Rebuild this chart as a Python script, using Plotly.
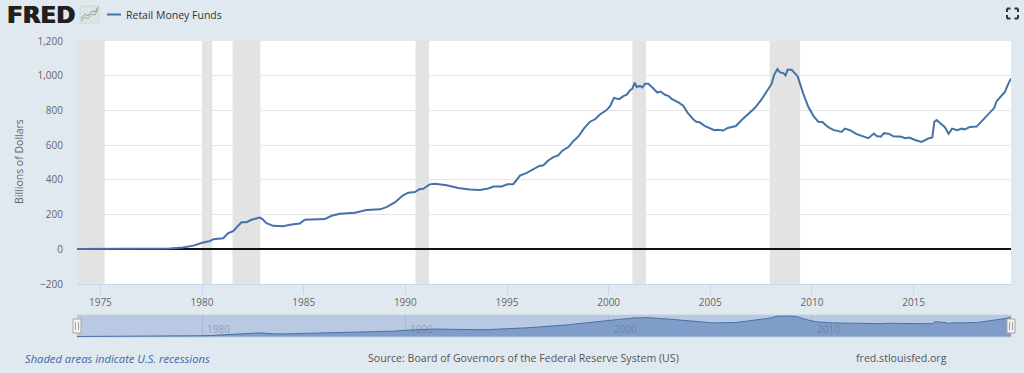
import plotly.graph_objects as go

W, H = 1024, 373

# --- data (decimal years, billions of dollars) ---
years = [
    1973.85, 1975.1, 1976.8, 1978.4, 1979.07, 1979.57, 1980.05, 1980.4, 1980.55, 1981.04,
    1981.29, 1981.53, 1981.94, 1982.19, 1982.43, 1982.84, 1982.97, 1983.17, 1983.5, 1984.0,
    1984.32, 1984.81, 1985.06, 1985.3, 1986.04, 1986.37, 1986.78, 1987.52, 1988.09, 1988.75,
    1989.07, 1989.48, 1989.89, 1990.14, 1990.47, 1990.71, 1990.88, 1991.2, 1991.45, 1992.03,
    1992.6, 1993.17, 1993.67, 1994.08, 1994.33, 1994.74, 1995.02, 1995.31, 1995.64, 1995.97,
    1996.3, 1996.59, 1996.79, 1997.03, 1997.28, 1997.52, 1997.72, 1998.02, 1998.26, 1998.51,
    1998.79, 1999.08, 1999.33, 1999.57, 1999.9, 2000.07, 2000.26, 2000.52, 2000.72, 2000.89,
    2001.05, 2001.16, 2001.28, 2001.38, 2001.54, 2001.66, 2001.79, 2001.95, 2002.2, 2002.39,
    2002.56, 2002.77, 2002.93, 2003.1, 2003.43, 2003.67, 2003.87, 2004.16, 2004.33, 2004.46,
    2004.74, 2005.07, 2005.2, 2005.34, 2005.64, 2005.85, 2006.26, 2006.54, 2006.87, 2007.2,
    2007.52, 2007.77, 2008.02, 2008.13, 2008.3, 2008.43, 2008.59, 2008.7, 2008.8, 2009.0,
    2009.16, 2009.3, 2009.57, 2009.82, 2010.07, 2010.31, 2010.51, 2010.8, 2011.05, 2011.46,
    2011.62, 2011.87, 2012.2, 2012.52, 2012.77, 2013.05, 2013.18, 2013.39, 2013.54, 2013.8,
    2014.0, 2014.41, 2014.57, 2014.79, 2015.07, 2015.39, 2015.72, 2015.92, 2016.02, 2016.13,
    2016.54, 2016.72, 2016.89, 2017.15, 2017.36, 2017.52, 2017.77, 2018.1, 2018.43, 2018.75,
    2018.97, 2019.08, 2019.33, 2019.49, 2019.66, 2019.79,
]
funds = [
    2, 3.5, 3.5, 4.5, 10, 21, 39, 48, 58, 64,
    93, 104, 156, 156, 170, 183, 174, 150, 135, 133,
    141, 149, 170, 172, 174, 193, 205, 210, 226, 230,
    243, 270, 311, 326, 330, 347, 349, 374, 378, 369,
    353, 344, 342, 350, 362, 362, 375, 375, 425, 440,
    463, 480, 484, 512, 531, 541, 568, 589, 623, 650,
    697, 735, 749, 777, 802, 825, 872, 865, 882, 891,
    916, 924, 960, 935, 941, 933, 954, 954, 926, 903,
    909, 890, 884, 867, 846, 827, 789, 749, 733, 733,
    710, 695, 686, 689, 684, 699, 710, 745, 783, 815,
    863, 907, 954, 1002, 1038, 1019, 1015, 1002, 1034, 1034,
    1011, 996, 897, 821, 769, 735, 733, 703, 688, 676,
    695, 686, 663, 651, 640, 667, 653, 649, 669, 665,
    651, 648, 640, 644, 630, 619, 638, 644, 735, 745,
    703, 665, 695, 686, 695, 691, 705, 707, 750, 787,
    815, 853, 888, 907, 954, 985,
]
recession_start = [1973.83, 1980.0, 1981.5, 1990.5, 2001.17, 2007.92]
recession_end = [1975.21, 1980.5, 1982.87, 1991.17, 2001.83, 2009.42]
nav_labels = [1980, 1990, 2000, 2010]
series_name = "Retail Money Funds"

BG = "#e1e9f0"
LINE = "#4572a7"


def px(v):
    return v / W


def py(v):
    return 1 - v / H


fig = go.Figure()
fig.add_trace(go.Scatter(x=years, y=funds, name=series_name, mode="lines",
                         line=dict(color=LINE, width=2), xaxis="x", yaxis="y"))
fig.add_trace(go.Scatter(x=years, y=funds, name=series_name, mode="lines", fill="tozeroy",
                         fillcolor="#7f9dc8", line=dict(color=LINE, width=1),
                         xaxis="x2", yaxis="y2", hoverinfo="skip"))

shapes = []
for a, b in zip(recession_start, recession_end):
    shapes.append(dict(type="rect", xref="x", yref="y domain", x0=a, x1=b, y0=0, y1=1,
                       fillcolor="#e3e3e3", line_width=0, layer="below"))
# navigator background and frame
shapes.append(dict(type="rect", xref="x2 domain", yref="y2 domain", x0=0, x1=1, y0=0, y1=1,
                   fillcolor="#b9c9e3", line=dict(color="#c8ced6", width=1), layer="below"))


def paper_rect(x0, y0, x1, y1, fill, color=None, width=0):
    return dict(type="rect", xref="paper", yref="paper", x0=px(x0), x1=px(x1), y0=py(y1), y1=py(y0),
                fillcolor=fill, line=dict(color=color or fill, width=width))


def paper_line(x0, y0, x1, y1, color, width):
    return dict(type="line", xref="paper", yref="paper", x0=px(x0), x1=px(x1), y0=py(y0), y1=py(y1),
                line=dict(color=color, width=width))


# navigator handles
for cx in (77, 1011):
    shapes.append(paper_rect(cx - 4, 319, cx + 4, 333, "#f2f2f2", "#a8a8a8", 1))
    shapes.append(paper_line(cx - 1.5, 322, cx - 1.5, 330, "#a0a0a0", 1))
    shapes.append(paper_line(cx + 1.5, 322, cx + 1.5, 330, "#a0a0a0", 1))

# legend swatch
shapes.append(paper_line(107, 14.5, 121, 14.5, LINE, 2))

# logo icon
shapes.append(paper_rect(80, 6, 99, 23, "#dfe3e3", "#d3d6d6", 1))
for pts, col in (([(81, 21), (85, 17), (88, 19), (92, 14), (95, 15), (98, 9)], "#8fb184"),
                 ([(81, 19), (85, 14), (88, 16), (92, 11), (95, 12), (98, 7)], "#7f9cc0")):
    for (xa, ya), (xb, yb) in zip(pts[:-1], pts[1:]):
        shapes.append(paper_line(xa, ya, xb, yb, col, 1))

# full-screen icon corners
for xc, yc, dx, dy in ((1007, 8.5, 1, 1), (1018, 8.5, -1, 1), (1007, 18.5, 1, -1), (1018, 18.5, -1, -1)):
    shapes.append(paper_line(xc, yc, xc + 3.5 * dx, yc, "#333333", 2))
    shapes.append(paper_line(xc, yc, xc, yc + 3.5 * dy, "#333333", 2))


def text(x, y, s, size=10, color="#555555", anchor="left", **kw):
    return dict(text=s, xref="paper", yref="paper", x=px(x), y=py(y), xanchor=anchor, yanchor="middle",
                showarrow=False, font=dict(family="Open Sans", size=size, color=color), **kw)


annotations = [
    text(124, 15, series_name, 10.5, "#333333"),
    text(23, 358, "<i>Shaded areas indicate U.S. recessions</i>", 11.2, "#3f66a8"),
    text(366, 358, "Source: Board of Governors of the Federal Reserve System (US)", 10.6, "#555555"),
    text(854, 358, "fred.stlouisfed.org", 10.6, "#555555"),
    text(19, 162, "Billions of Dollars", 10.5, "#666666", anchor="center", textangle=-90),
    dict(text="FRED", xref="paper", yref="paper", x=px(5), y=py(15), xanchor="left", yanchor="middle",
         showarrow=False, font=dict(family="DejaVu Sans", size=23, weight=700, color="#231f20",
                                    shadow="0.7px 0 0 #231f20, -0.4px 0 0 #231f20")),
]
for yr in nav_labels:
    annotations.append(dict(text=str(yr), xref="x2", yref="paper", x=yr, y=py(329), xanchor="left",
                            yanchor="middle", xshift=3, showarrow=False,
                            font=dict(family="Open Sans", size=10, color="rgba(90,95,110,0.42)")))

tick_font = dict(family="Open Sans", size=10, color="#666666")
fig.update_layout(
    width=W, height=H, autosize=False,
    margin=dict(l=0, r=0, t=0, b=0),
    paper_bgcolor=BG, plot_bgcolor="#ffffff",
    showlegend=False,
    font=dict(family="Open Sans", size=10, color="#666666"),
    xaxis=dict(domain=[px(77), px(1011)], range=[1973.85, 2019.79], anchor="y", automargin=False,
               tickmode="linear", tick0=1975, dtick=5, tickformat="d", showgrid=False, zeroline=False,
               ticks="outside", ticklen=9, tickcolor="#ccd6eb", tickwidth=1,
               showline=True, linecolor="#ccd6eb", linewidth=1, tickfont=tick_font),
    yaxis=dict(domain=[py(284), py(41)], range=[-200, 1200], anchor="x", automargin=False,
               tickmode="linear", tick0=-200, dtick=200, tickformat=",d",
               gridcolor="#e6e6e6", gridwidth=1, zeroline=True, zerolinecolor="#111111", zerolinewidth=2,
               ticks="", ticklabelstandoff=13, tickfont=tick_font),
    xaxis2=dict(domain=[px(77), px(1011)], range=[1973.85, 2019.79], anchor="y2", automargin=False,
                showticklabels=False, ticks="", tickmode="linear", tick0=1980, dtick=10,
                showgrid=True, gridcolor="rgba(90,95,110,0.15)", zeroline=False),
    yaxis2=dict(domain=[py(337), py(315)], range=[-25, 1088], anchor="x2", automargin=False,
                showticklabels=False, ticks="", showgrid=False, zeroline=False),
    shapes=shapes,
    annotations=annotations,
)

fig.write_html("out.html", config={"displayModeBar": False},
               post_script="document.body.style.margin='0';document.body.style.overflow='hidden';")
